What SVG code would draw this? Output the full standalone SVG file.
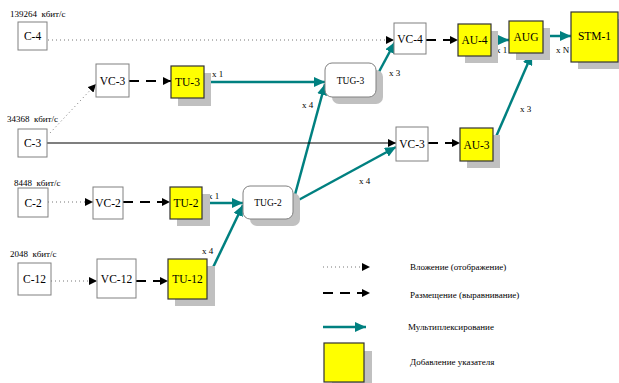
<svg xmlns="http://www.w3.org/2000/svg" width="619" height="383" viewBox="0 0 619 383" font-family="'Liberation Serif', 'DejaVu Serif', serif">
<defs>
<marker id="ab" markerUnits="userSpaceOnUse" markerWidth="9" markerHeight="8" refX="8" refY="4" orient="auto"><path d="M0,0 L8,4 L0,8 Z" fill="#000"/></marker>
<marker id="at" markerUnits="userSpaceOnUse" markerWidth="12" markerHeight="10" refX="11" refY="5" orient="auto"><path d="M0,0 L11,5 L0,10 Z" fill="#008080"/></marker>
</defs>
<style>
text{font-family:'Liberation Serif','DejaVu Serif',serif;fill:#000;white-space:pre}
.lbl{font-size:9px}
.n{font-size:11.5px;text-anchor:middle;dominant-baseline:central}
.g{font-size:9.5px;text-anchor:middle;dominant-baseline:central}
.wb{fill:#fff;stroke:#808080;stroke-width:1}
.yb{fill:#ffff00;stroke:#333;stroke-width:1.2}
.sh{fill:#c0c0c0}
.dot{stroke:#777;stroke-width:1;stroke-dasharray:1 3;fill:none}
.dash{stroke:#000;stroke-width:2;stroke-dasharray:10 7;fill:none}
.sol{stroke:#000;stroke-width:1.2;fill:none}
.mux{stroke:#008080;stroke-width:2.5;fill:none}
.leg{font-size:9px;dominant-baseline:central}
</style>

<text class="lbl" x="10" y="17" xml:space="preserve">139264  кбит/с</text>
<text class="lbl" x="7" y="122" xml:space="preserve">34368  кбит/с</text>
<text class="lbl" x="14" y="186" xml:space="preserve">8448  кбит/с</text>
<text class="lbl" x="10" y="257" xml:space="preserve">2048  кбит/с</text>

<g id="connectors">
<line class="dot" x1="48" y1="40" x2="394" y2="40" marker-end="url(#ab)"/>
<line class="dash" x1="426" y1="40" x2="458" y2="40" marker-end="url(#ab)"/>
<line class="mux" x1="491" y1="40" x2="509" y2="40" marker-end="url(#at)"/>
<line class="mux" x1="543" y1="36" x2="571" y2="36" marker-end="url(#at)"/>
<line class="mux" x1="492" y1="146" x2="532" y2="54" marker-end="url(#at)"/>
<line class="dot" x1="50" y1="133" x2="96" y2="84" marker-end="url(#ab)"/>
<line class="dash" x1="129" y1="81" x2="171" y2="81" marker-end="url(#ab)"/>
<line class="mux" x1="204" y1="82" x2="325" y2="82" marker-end="url(#at)"/>
<line class="mux" x1="293" y1="202" x2="325" y2="84" marker-end="url(#at)"/>
<line class="mux" x1="374" y1="81" x2="395" y2="42" marker-end="url(#at)"/>
<line class="sol" x1="47" y1="143" x2="396" y2="143" marker-end="url(#ab)"/>
<line class="dash" x1="428" y1="143" x2="460" y2="143" marker-end="url(#ab)"/>
<line class="mux" x1="293" y1="203" x2="396" y2="147" marker-end="url(#at)"/>
<line class="dot" x1="48" y1="202" x2="93" y2="202" marker-end="url(#ab)"/>
<line class="dash" x1="123" y1="202" x2="170" y2="202" marker-end="url(#ab)"/>
<line class="mux" x1="202" y1="203" x2="243" y2="203" marker-end="url(#at)"/>
<line class="mux" x1="207" y1="280" x2="243" y2="205" marker-end="url(#at)"/>
<line class="dot" x1="51" y1="281" x2="97" y2="281" marker-end="url(#ab)"/>
<line class="dash" x1="136" y1="281" x2="168" y2="281" marker-end="url(#ab)"/>
</g>

<g id="mult-labels">
<text class="lbl" x="496" y="53">x 1</text>
<text class="lbl" x="556" y="53">x N</text>
<text class="lbl" x="520" y="112">x 3</text>
<text class="lbl" x="212" y="77">x 1</text>
<text class="lbl" x="302" y="108">x 4</text>
<text class="lbl" x="389" y="76">x 3</text>
<text class="lbl" x="359" y="184">x 4</text>
<text class="lbl" x="208" y="199">x 1</text>
<text class="lbl" x="202" y="254">x 4</text>
</g>

<g id="C-4"><rect class="wb" x="18" y="22" width="29" height="28"/><text class="n" x="32.5" y="36">C-4</text></g>
<g id="C-3"><rect class="wb" x="18" y="129" width="29" height="28"/><text class="n" x="32.5" y="143">C-3</text></g>
<g id="C-2"><rect class="wb" x="18" y="188" width="30" height="29"/><text class="n" x="33" y="202.5">C-2</text></g>
<g id="C-12"><rect class="wb" x="18" y="263" width="33" height="32"/><text class="n" x="34.5" y="279">C-12</text></g>

<g id="VC-3a"><rect class="wb" x="96" y="64" width="33" height="33"/><text class="n" x="112.5" y="80.5">VC-3</text></g>
<g id="VC-2"><rect class="wb" x="93" y="187" width="30" height="32"/><text class="n" x="108" y="203">VC-2</text></g>
<g id="VC-12"><rect class="wb" x="97" y="259" width="39" height="39"/><text class="n" x="116.5" y="278.5">VC-12</text></g>
<g id="VC-4"><rect class="wb" x="394" y="23" width="32" height="31"/><text class="n" x="410" y="38.5">VC-4</text></g>
<g id="VC-3b"><rect class="wb" x="396" y="127" width="32" height="34"/><text class="n" x="412" y="144">VC-3</text></g>

<g id="TU-3"><rect class="sh" x="178" y="73" width="33" height="33"/><rect class="yb" x="171" y="66" width="33" height="32"/><text class="n" x="187.5" y="82">TU-3</text></g>
<g id="TU-2"><rect class="sh" x="177" y="194" width="33" height="32"/><rect class="yb" x="170" y="187" width="32" height="32"/><text class="n" x="186" y="203">TU-2</text></g>
<g id="TU-12"><rect class="sh" x="175" y="266" width="40" height="40"/><rect class="yb" x="168" y="259" width="39" height="40"/><text class="n" x="187.5" y="279">TU-12</text></g>

<g id="TUG-3"><rect class="sh" x="332" y="70" width="51" height="34" rx="7"/><rect class="wb" x="325" y="63" width="51" height="34" rx="7"/><text class="g" x="350.5" y="80.5">TUG-3</text></g>
<g id="TUG-2"><rect class="sh" x="250" y="193" width="50" height="33" rx="7"/><rect class="wb" x="243" y="186" width="50" height="33" rx="7"/><text class="g" x="268" y="202.5">TUG-2</text></g>

<g id="AU-4"><rect class="sh" x="465" y="31" width="33" height="32"/><rect class="yb" x="458" y="24" width="33" height="32"/><text class="n" x="474.5" y="40">AU-4</text></g>
<g id="AU-3"><rect class="sh" x="467" y="135" width="33" height="33"/><rect class="yb" x="460" y="128" width="33" height="33"/><text class="n" x="476.5" y="144.5">AU-3</text></g>
<g id="AUG"><rect class="sh" x="516" y="28" width="34" height="32"/><rect class="yb" x="509" y="21" width="34" height="32"/><text class="n" x="526" y="37">AUG</text></g>
<g id="STM-1"><rect class="sh" x="578" y="19" width="48" height="50"/><rect class="yb" x="571" y="12" width="47" height="50"/><text class="n" x="594.5" y="36">STM-1</text></g>

<g id="legend">
<line class="dot" x1="323" y1="267" x2="370" y2="267" marker-end="url(#ab)"/>
<text class="leg" x="410" y="267">Вложение (отображение)</text>
<line class="dash" x1="323" y1="293" x2="370" y2="293" marker-end="url(#ab)"/>
<text class="leg" x="410" y="295">Размещение (выравнивание)</text>
<line class="mux" x1="323" y1="327" x2="366" y2="327" marker-end="url(#at)"/>
<text class="leg" x="408" y="327">Мультиплексирование</text>
<rect class="sh" x="332" y="351" width="40" height="40"/>
<rect class="yb" x="324" y="343" width="40" height="39"/>
<text class="leg" x="410" y="362">Добавление указателя</text>
</g>
</svg>
